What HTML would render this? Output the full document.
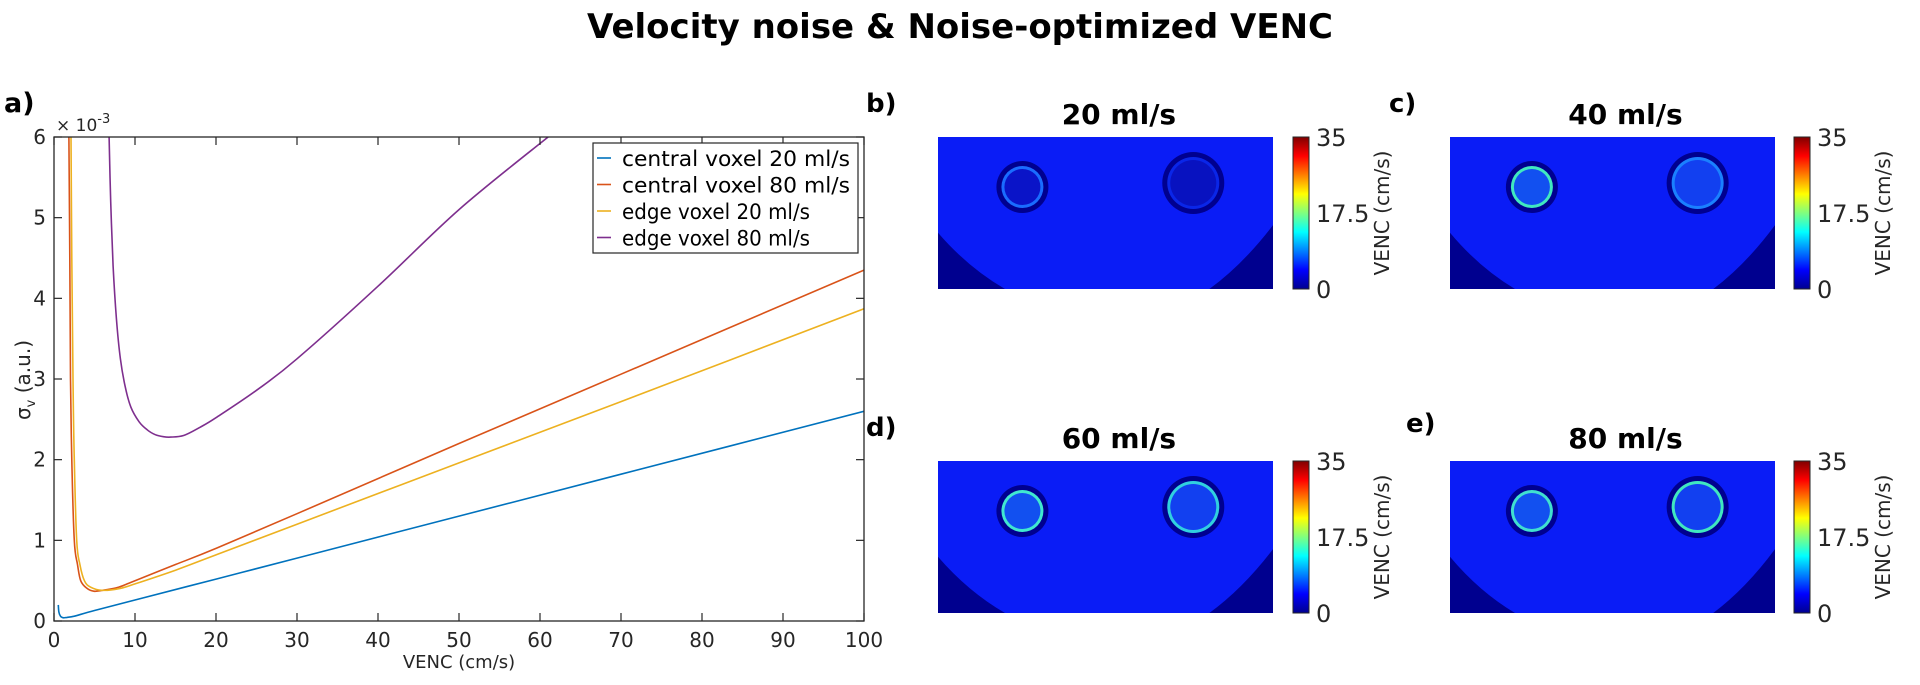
<!DOCTYPE html>
<html><head><meta charset="utf-8">
<style>
html,body{margin:0;padding:0;background:#fff;}
body{width:1920px;height:681px;overflow:hidden;position:relative;font-family:"DejaVu Sans","Liberation Sans",sans-serif;}
svg text{font-family:"DejaVu Sans","Liberation Sans",sans-serif;}
</style></head>
<body>
<svg id="main" width="1920" height="681" viewBox="0 0 1920 681">
<defs>
<linearGradient id="jet" x1="0" y1="1" x2="0" y2="0">
<stop offset="0" stop-color="#00008f"/><stop offset="0.125" stop-color="#0000ff"/>
<stop offset="0.375" stop-color="#00ffff"/><stop offset="0.625" stop-color="#ffff00"/>
<stop offset="0.875" stop-color="#ff0000"/><stop offset="1" stop-color="#800000"/>
</linearGradient>
</defs>
<text x="960" y="38" text-anchor="middle" font-size="34" font-weight="bold">Velocity noise &amp; Noise-optimized VENC</text>
<text x="4" y="112" font-size="27" font-weight="bold">a)</text>
<g id="plotA"></g>
<g id="panels"></g>
</svg>
<script>
const NS='http://www.w3.org/2000/svg';
const tickX=[0,10,20,30,40,50,60,70,80,90,100];
const tickY=[0,1,2,3,4,5,6];
const seriesNames=['central voxel 20 ml/s','central voxel 80 ml/s','edge voxel 20 ml/s','edge voxel 80 ml/s'];
const seriesColors=['#0072bd','#d95319','#edb120','#7e2f8e'];
const blueX=[0.53,0.6,0.8,1,1.2,1.6,2.5,5,10,20,30,50,70,100];
const blueY=[0.2,0.11,0.06,0.045,0.04,0.045,0.06,0.13,0.26,0.52,0.78,1.3,1.82,2.6];
const orangeX=[1.84,1.95,2.04,2.2,2.5,2.9,3.3,4,4.9,6,8,10,15,20,30,50,70,100];
const orangeY=[6,4.5,3,2,1,0.7,0.5,0.41,0.37,0.38,0.42,0.5,0.7,0.9,1.33,2.2,3.06,4.35];
const yellowX=[2.1,2.2,2.35,2.5,2.8,3.2,3.75,4.5,5.9,8,10,15,20,30,50,70,100];
const yellowY=[6,4.5,3,2,1,0.7,0.5,0.42,0.38,0.4,0.46,0.63,0.82,1.2,1.96,2.72,3.87];
const purpleX=[6.8,7.0,7.3,7.7,8.2,8.8,9.5,10.5,11.5,12.5,13.5,14.4,16,18,20,25,30,40,50,61];
const purpleY=[6,5.2,4.4,3.75,3.25,2.9,2.65,2.47,2.37,2.31,2.285,2.28,2.3,2.4,2.52,2.86,3.25,4.15,5.1,6.0];
const allX=[blueX,orangeX,yellowX,purpleX], allY=[blueY,orangeY,yellowY,purpleY];
const mapTitles=['20 ml/s','40 ml/s','60 ml/s','80 ml/s'];
const mapLetters=['b)','c)','d)','e)'];
const cbTicks=[0,17.5,35];
const ringColors=[['#1a6cff','#0a26e8'],['#40e8c0','#1a80ff'],['#40e8d0','#30d0e0'],['#40e0d0','#40e8c0']];

const L=54,R=864,T=137,B=621;
const sx=v=>L+(v-0)/(100-0)*(R-L);
const sy=v=>B-(v-0)/(6-0)*(B-T);
function el(tag,attrs,parent){const e=document.createElementNS(NS,tag);for(const k in attrs)e.setAttribute(k,attrs[k]);parent.appendChild(e);return e;}
function smooth(P){let d='M'+P[0][0].toFixed(1)+','+P[0][1].toFixed(1);
  for(let i=0;i<P.length-1;i++){const p0=P[Math.max(0,i-1)],p1=P[i],p2=P[i+1],p3=P[Math.min(P.length-1,i+2)];
    const c1=[p1[0]+(p2[0]-p0[0])/6,p1[1]+(p2[1]-p0[1])/6],c2=[p2[0]-(p3[0]-p1[0])/6,p2[1]-(p3[1]-p1[1])/6];
    d+=` C${c1[0].toFixed(1)},${c1[1].toFixed(1)} ${c2[0].toFixed(1)},${c2[1].toFixed(1)} ${p2[0].toFixed(1)},${p2[1].toFixed(1)}`;}
  return d;}
const gA=document.getElementById('plotA');
const clip=el('clipPath',{id:'clipA'},gA);el('rect',{x:L,y:T,width:R-L,height:B-T},clip);
for(let s=0;s<4;s++){
  const P=allX[s].map((x,i)=>[sx(x),sy(allY[s][i])]);
  const p=el('path',{d:smooth(P),fill:'none',stroke:seriesColors[s],'stroke-width':1.6,'clip-path':'url(#clipA)'},gA);
  
  
}
const box=el('rect',{x:L,y:T,width:R-L,height:B-T,fill:'none',stroke:'#262626','stroke-width':1.3},gA);

tickX.forEach(v=>{
  el('line',{x1:sx(v),x2:sx(v),y1:B,y2:B-8,stroke:'#262626','stroke-width':1.2},gA);
  el('line',{x1:sx(v),x2:sx(v),y1:T,y2:T+8,stroke:'#262626','stroke-width':1.2},gA);
  const t=el('text',{x:sx(v),y:B+26,'text-anchor':'middle','font-size':20,fill:'#262626'},gA);t.textContent=v;
  
});
tickY.forEach(v=>{
  el('line',{x1:L,x2:L+8,y1:sy(v),y2:sy(v),stroke:'#262626','stroke-width':1.2},gA);
  el('line',{x1:R,x2:R-8,y1:sy(v),y2:sy(v),stroke:'#262626','stroke-width':1.2},gA);
  const t=el('text',{x:L-8,y:sy(v)+7,'text-anchor':'end','font-size':20,fill:'#262626'},gA);t.textContent=v;
  
});
let t=el('text',{x:L+2,y:T-6,'font-size':17,fill:'#262626'},gA);t.innerHTML='× 10<tspan dy="-8" font-size="13">-3</tspan>';

t=el('text',{x:459,y:668,'text-anchor':'middle','font-size':18,fill:'#262626'},gA);t.textContent='VENC (cm/s)';

t=el('text',{x:0,y:0,'text-anchor':'middle','font-size':20,fill:'#262626',transform:'translate(30,380) rotate(-90)'},gA);t.innerHTML='σ<tspan dy="5" font-size="13">v</tspan><tspan dy="-5"> (a.u.)</tspan>';

// legend
const lg=el('g',{},gA);
el('rect',{x:593,y:143,width:265,height:110,fill:'#fff',stroke:'#262626','stroke-width':1.2},lg);
seriesNames.forEach((n,i)=>{
  const y=158+i*26.5;
  el('line',{x1:597,x2:611,y1:y,y2:y,stroke:seriesColors[i],'stroke-width':1.6},lg);
  const tt=el('text',{x:622,y:y+8,'font-size':21,fill:'#000',textLength:i>=2?188:228,lengthAdjust:'spacingAndGlyphs'},lg);tt.textContent=n;
  
});
// maps
const gP=document.getElementById('panels');
const layouts=[{x:938,y:137,w:335,cb:1293,lx:866,ly:112},{x:1450,y:137,w:325,cb:1794,lx:1389,ly:112},
{x:938,y:461,w:335,cb:1293,lx:866,ly:436},{x:1450,y:461,w:325,cb:1794,lx:1406,ly:432}];
layouts.forEach((p,i)=>{
  const g=el('g',{},gP);
  const h=152,w=p.w;
  let lt=el('text',{x:p.lx,y:p.ly,'font-size':26,'font-weight':'bold'},g);lt.textContent=mapLetters[i];
  
  let tt=el('text',{x:p.x+w*0.54,y:p.y-13,'text-anchor':'middle','font-size':28,'font-weight':'bold'},g);tt.textContent=mapTitles[i];
  
  el('rect',{x:p.x,y:p.y,width:w,height:h,fill:'#0a1cf6'},g);
  el('path',{d:`M${p.x},${p.y+h*0.63} Q${p.x+w*0.09},${p.y+h*0.86} ${p.x+w*0.2},${p.y+h} L${p.x},${p.y+h}Z`,fill:'#00008f'},g);
  el('path',{d:`M${p.x+w},${p.y+h*0.58} Q${p.x+w*0.91},${p.y+h*0.84} ${p.x+w*0.81},${p.y+h} L${p.x+w},${p.y+h}Z`,fill:'#00008f'},g);
  const c1x=p.x+w*0.252,c1y=p.y+50,c2x=p.x+w*0.762,c2y=p.y+46;
  el('circle',{cx:c1x,cy:c1y,r:26,fill:'#00008f'},g);
  el('circle',{cx:c1x,cy:c1y,r:21,fill:ringColors[i][0]},g);
  el('circle',{cx:c1x,cy:c1y,r:18,fill:i==0?'#0a14c8':'#1250f0'},g);
  el('circle',{cx:c2x,cy:c2y,r:31,fill:'#00008f'},g);
  el('circle',{cx:c2x,cy:c2y,r:26,fill:ringColors[i][1]},g);
  el('circle',{cx:c2x,cy:c2y,r:23,fill:i==0?'#0812c0':'#1240f0'},g);
  const cb=el('rect',{x:p.cb,y:p.y,width:16,height:h,fill:'url(#jet)',stroke:'#262626','stroke-width':1},g);
  
  cbTicks.forEach(v=>{
    const yy=p.y+h-(v/35)*h;
    const ct=el('text',{x:p.cb+23,y:yy+9,'font-size':24,fill:'#262626'},g);ct.textContent=v;
    
  });
  const vl=el('text',{x:0,y:0,'text-anchor':'middle','font-size':20,fill:'#262626',transform:`translate(${p.cb+96},${p.y+h/2}) rotate(-90)`},g);
  vl.textContent='VENC (cm/s)';
  
});
</script>
</body></html>
